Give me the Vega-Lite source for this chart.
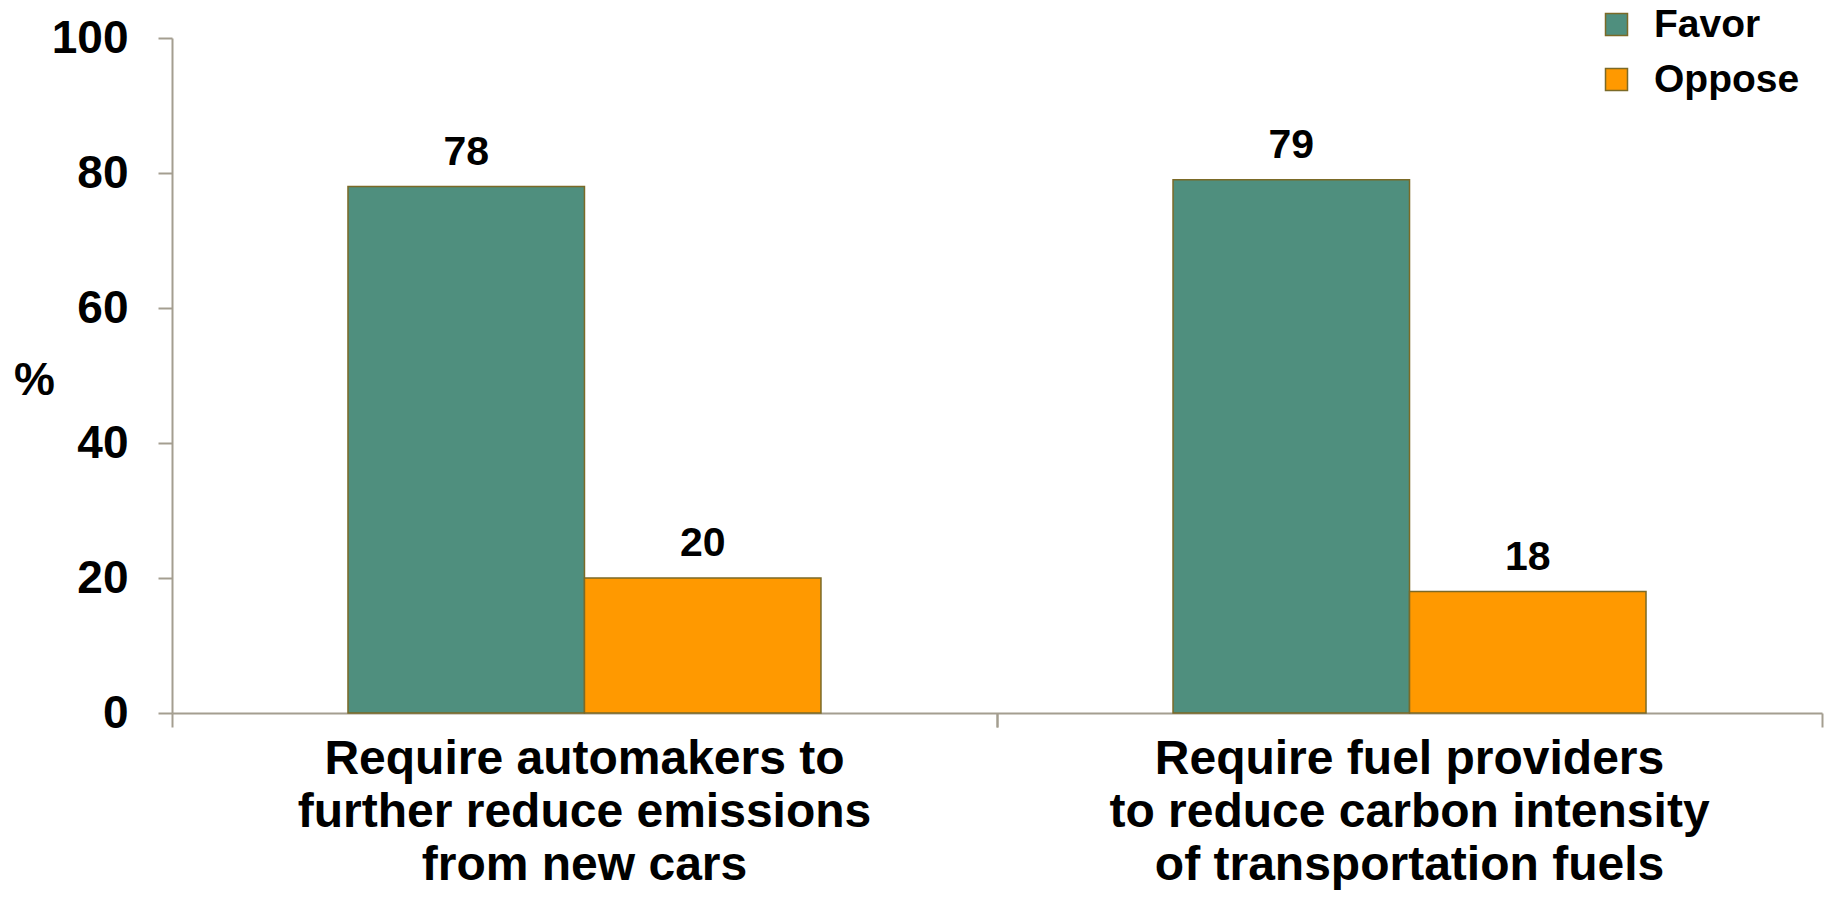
{
  "$schema": "https://vega.github.io/schema/vega-lite/v6.json",
  "width": 1650,
  "height": 675,
  "autosize": {"type": "none"},
  "padding": {"left": 172, "top": 38, "right": 4, "bottom": 190},
  "background": "white",
  "config": {
    "view": {"stroke": null},
    "font": "Liberation Sans"
  },
  "data": {
    "values": [
      {"question": "Require automakers to further reduce emissions from new cars", "response": "Favor", "percent": 78},
      {"question": "Require automakers to further reduce emissions from new cars", "response": "Oppose", "percent": 20},
      {"question": "Require fuel providers to reduce carbon intensity of transportation fuels", "response": "Favor", "percent": 79},
      {"question": "Require fuel providers to reduce carbon intensity of transportation fuels", "response": "Oppose", "percent": 18}
    ]
  },
  "resolve": {"axis": {"x": "independent"}},
  "encoding": {
    "xOffset": {
      "field": "response",
      "type": "nominal",
      "sort": ["Favor", "Oppose"],
      "scale": {"paddingInner": 0, "paddingOuter": 0}
    },
    "y": {
      "field": "percent",
      "type": "quantitative",
      "scale": {"domain": [0, 100], "nice": false},
      "axis": {
        "values": [0, 20, 40, 60, 80, 100],
        "grid": false,
        "title": "%",
        "titleAngle": 0,
        "titleFont": "Liberation Sans",
        "titleFontSize": 46,
        "titleFontWeight": "bold",
        "titleColor": "black",
        "titleAlign": "center",
        "titleBaseline": "middle",
        "titleX": -138,
        "titleY": 342,
        "labelFont": "Liberation Sans",
        "labelFontSize": 46,
        "labelFontWeight": "bold",
        "labelColor": "black",
        "labelPadding": 30,
        "tickSize": 14,
        "tickWidth": 2,
        "tickColor": "#A49E90",
        "domainColor": "#A49E90",
        "domainWidth": 2
      }
    }
  },
  "layer": [
    {
      "mark": {"type": "bar", "stroke": "#7B6A27", "strokeWidth": 1.5},
      "encoding": {
        "x": {
          "field": "question",
          "type": "nominal",
          "sort": null,
          "scale": {"paddingInner": 0.4267, "paddingOuter": 0.2133},
          "axis": {
            "orient": "bottom",
            "title": null,
            "labelAngle": 0,
            "labelFont": "Liberation Sans",
            "labelFontSize": 48,
            "labelFontWeight": "bold",
            "labelColor": "black",
            "labelLineHeight": 53,
            "labelBaseline": "alphabetic",
            "labelPadding": 60,
            "labelLimit": 0,
            "labelExpr": "datum.value == 'Require automakers to further reduce emissions from new cars' ? ['Require automakers to', 'further reduce emissions', 'from new cars'] : ['Require fuel providers', 'to reduce carbon intensity', 'of transportation fuels']",
            "ticks": false,
            "domainColor": "#A49E90",
            "domainWidth": 2
          }
        },
        "color": {
          "field": "response",
          "type": "nominal",
          "sort": ["Favor", "Oppose"],
          "scale": {"domain": ["Favor", "Oppose"], "range": ["#4F8F7E", "#FF9900"]},
          "legend": {
            "title": null,
            "orient": "none",
            "legendX": 1425,
            "legendY": -33,
            "padding": 0,
            "symbolType": "square",
            "symbolSize": 484,
            "symbolStrokeColor": "#7B6A27",
            "symbolStrokeWidth": 1.5,
            "labelFont": "Liberation Sans",
            "labelFontSize": 39,
            "labelFontWeight": "bold",
            "labelColor": "black",
            "labelOffset": 18,
            "rowPadding": 15
          }
        }
      }
    },
    {
      "transform": [{"filter": "datum.response == 'Favor'"}],
      "mark": {"type": "text", "font": "Liberation Sans", "fontSize": 41, "fontWeight": "bold", "color": "black", "baseline": "alphabetic", "dy": -22},
      "encoding": {
        "x": {
          "field": "question",
          "type": "nominal",
          "sort": null,
          "axis": {
            "orient": "bottom",
            "title": null,
            "labels": false,
            "domain": false,
            "tickBand": "center",
            "tickOffset": -412.5,
            "tickSize": 14,
            "tickWidth": 2,
            "tickColor": "#A49E90"
          }
        },
        "text": {"field": "percent", "type": "quantitative"}
      }
    },
    {
      "transform": [{"filter": "datum.response == 'Oppose'"}],
      "mark": {"type": "text", "font": "Liberation Sans", "fontSize": 41, "fontWeight": "bold", "color": "black", "baseline": "alphabetic", "dy": -22},
      "encoding": {
        "x": {
          "field": "question",
          "type": "nominal",
          "sort": null,
          "axis": {
            "orient": "bottom",
            "title": null,
            "labels": false,
            "domain": false,
            "tickBand": "center",
            "tickOffset": 412.5,
            "tickSize": 14,
            "tickWidth": 2,
            "tickColor": "#A49E90"
          }
        },
        "text": {"field": "percent", "type": "quantitative"}
      }
    }
  ]
}
